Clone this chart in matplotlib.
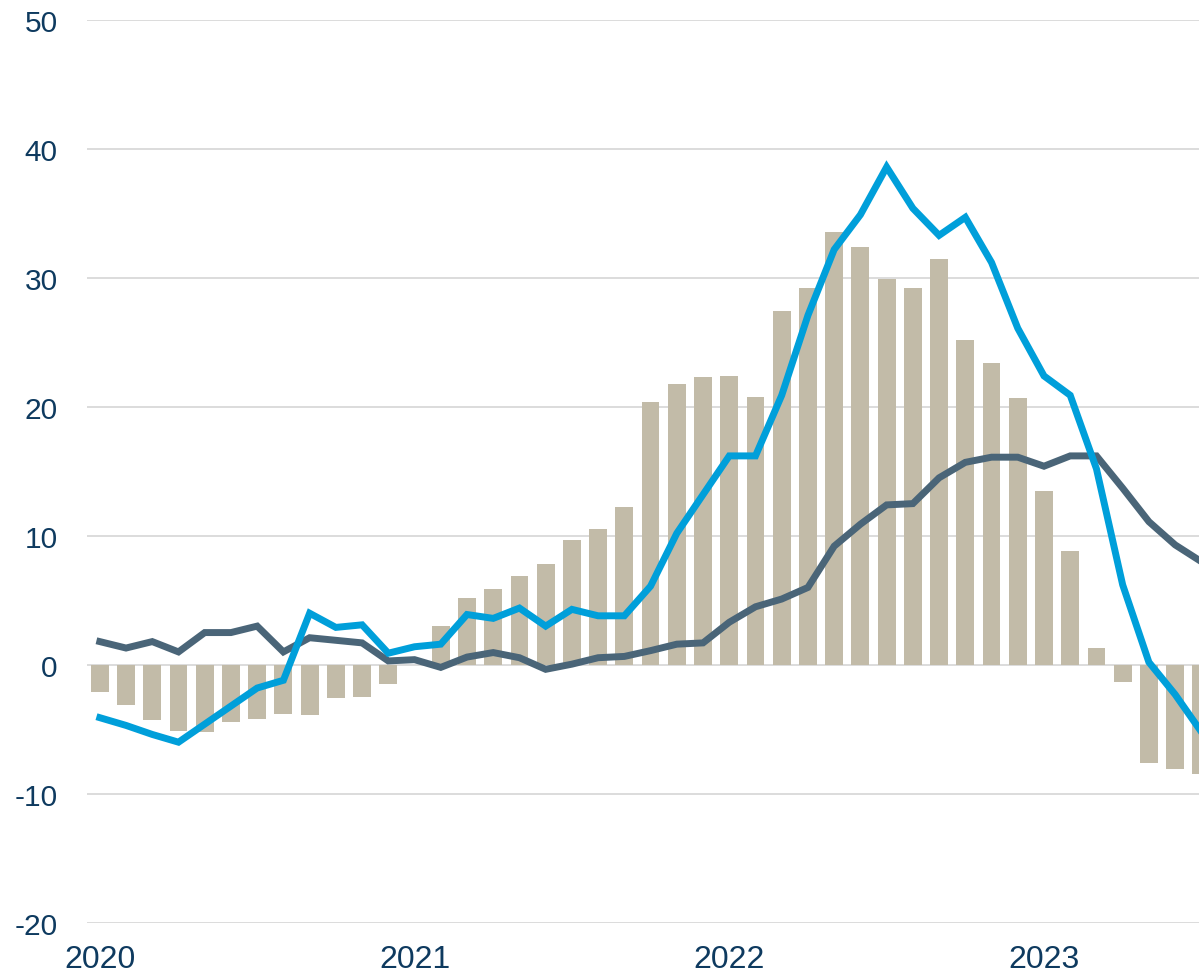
import matplotlib
matplotlib.use("Agg")
import matplotlib.pyplot as plt
import numpy as np

plt.rcParams['font.family'] = ['Liberation Sans', 'DejaVu Sans']

# Monthly data Jan 2020 .. Jul 2023
bar_values = [-2.1, -3.1, -4.3, -5.1, -5.2, -4.4, -4.2, -3.8, -3.9, -2.6, -2.5, -1.5,
              0.0, 3.0, 5.2, 5.9, 6.9, 7.8, 9.7, 10.5, 12.2, 20.4, 21.8, 22.3,
              22.4, 20.8, 27.4, 29.2, 33.6, 32.4, 29.9, 29.2, 31.5, 25.2, 23.4, 20.7,
              13.5, 8.8, 1.3, -1.3, -7.6, -8.1, -8.5]
light_line = [-4.1, -4.7, -5.4, -6.0, -4.6, -3.2, -1.8, -1.2, 4.0, 2.9, 3.1, 0.9,
              1.4, 1.6, 3.9, 3.6, 4.4, 3.0, 4.3, 3.8, 3.8, 6.1, 10.2, 13.2,
              16.2, 16.2, 20.9, 27.1, 32.2, 34.9, 38.6, 35.4, 33.3, 34.7, 31.2, 26.1,
              22.4, 20.9, 15.2, 6.2, 0.2, -2.3, -5.2]
dark_line = [1.8, 1.3, 1.8, 1.0, 2.5, 2.5, 3.0, 1.0, 2.1, 1.9, 1.7, 0.3,
             0.4, -0.2, 0.6, 0.95, 0.55, -0.35, 0.05, 0.55, 0.65, 1.1, 1.6, 1.7,
             3.3, 4.5, 5.1, 6.0, 9.2, 10.9, 12.4, 12.5, 14.5, 15.7, 16.1, 16.1,
             15.4, 16.2, 16.2, 13.7, 11.1, 9.3, 8.0]
year_labels = ['2020', '2021', '2022', '2023']
year_positions = [0, 12, 24, 36]
y_ticks = [-20, -10, 0, 10, 20, 30, 40, 50]

text_color = '#0E3A5F'
bar_color = '#C2BBA8'
light_color = '#009FDA'
dark_color = '#4A6578'
grid_color = '#D9D9D9'

fig = plt.figure(figsize=(11.99, 9.78), dpi=100)
ax = fig.add_axes([0.0723, 0.0555, 1 - 0.0723, 0.9785 - 0.0555])

x = np.arange(len(bar_values))
ax.bar(x, bar_values, width=0.68, color=bar_color, zorder=2)
ax.plot(x, dark_line, color=dark_color, lw=5, zorder=3, solid_joinstyle='miter')
ax.plot(x, light_line, color=light_color, lw=5, zorder=4, solid_joinstyle='miter')

ax.set_xlim(-0.5, 41.91)
ax.set_ylim(-20, 50)
ax.set_yticks(y_ticks)
ax.set_yticklabels([str(v) for v in y_ticks])
ax.set_xticks(year_positions)
ax.set_xticklabels(year_labels)

ax.yaxis.grid(True, color=grid_color, lw=1.3, zorder=0)
ax.set_axisbelow(True)
for s in ax.spines.values():
    s.set_visible(False)
ax.tick_params(axis='y', length=0, pad=21, labelsize=21.5, labelcolor=text_color)
ax.tick_params(axis='x', length=0, pad=15, labelsize=23, labelcolor=text_color)

fig.savefig('out.png', dpi=100)
